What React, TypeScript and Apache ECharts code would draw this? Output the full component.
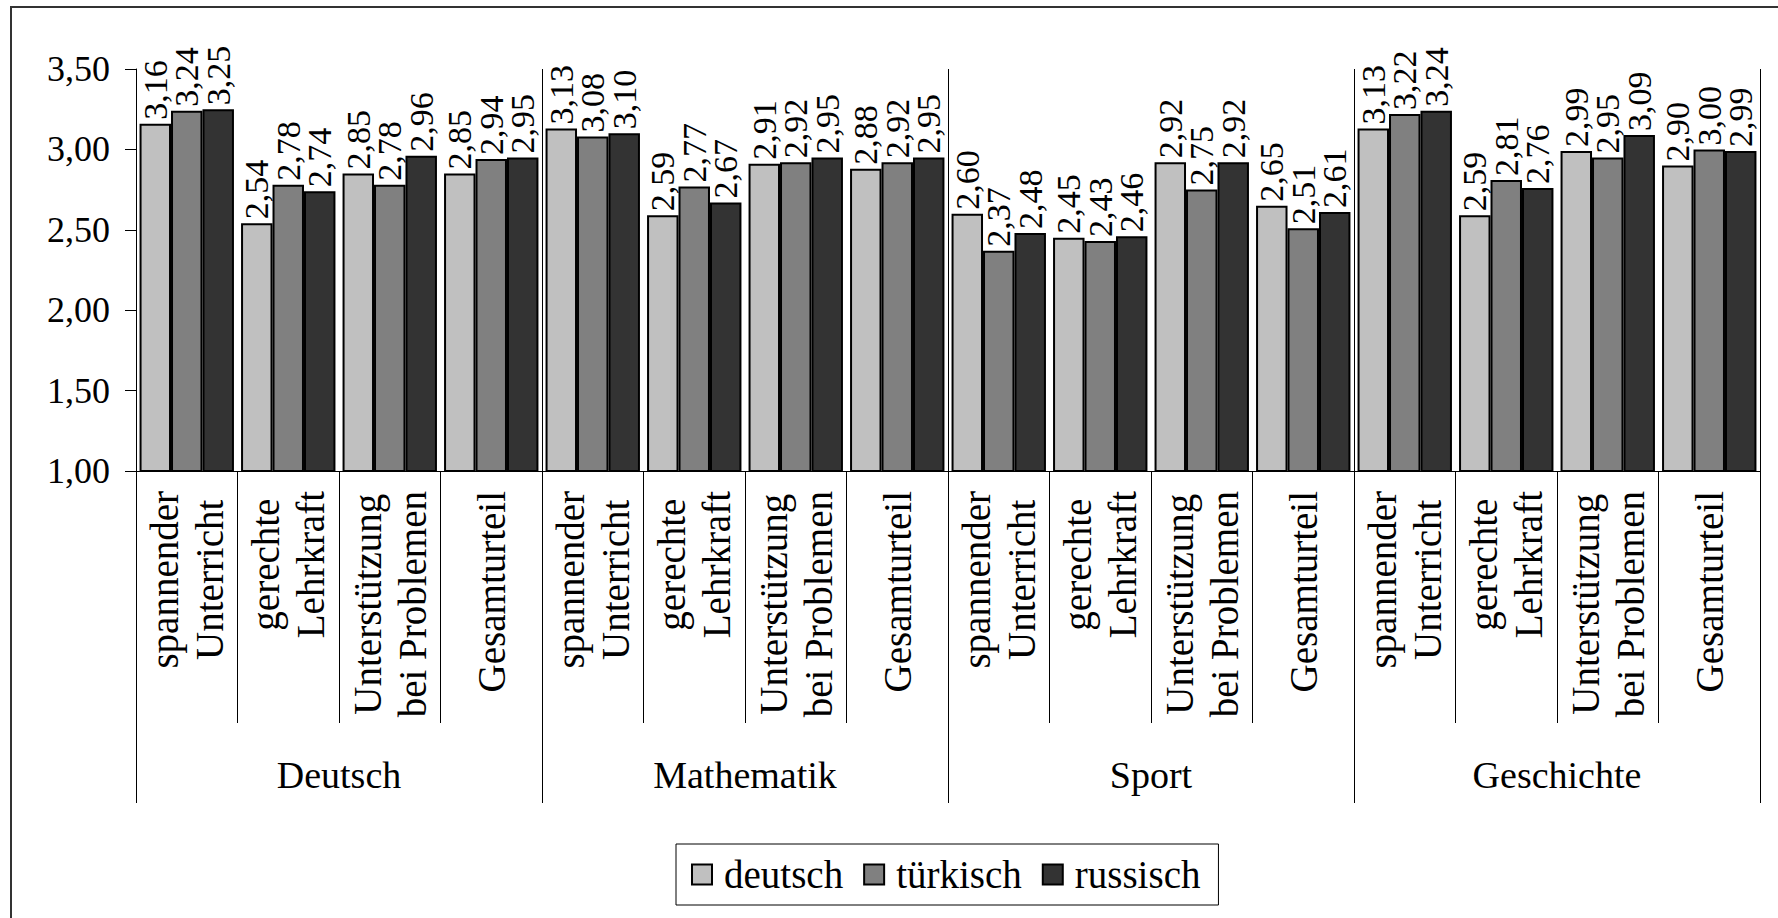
import React, { useEffect, useRef } from 'react';
import * as echarts from 'echarts';

const subjects = ['Deutsch', 'Mathematik', 'Sport', 'Geschichte'];
const criteria = ['spannender\nUnterricht', 'gerechte\nLehrkraft', 'Unterstützung\nbei Problemen', 'Gesamturteil'];
const seriesNames = ['deutsch', 'türkisch', 'russisch'];
const deutsch = [3.16, 2.54, 2.85, 2.85, 3.13, 2.59, 2.91, 2.88, 2.60, 2.45, 2.92, 2.65, 3.13, 2.59, 2.99, 2.90];
const tuerkisch = [3.24, 2.78, 2.78, 2.94, 3.08, 2.77, 2.92, 2.92, 2.37, 2.43, 2.75, 2.51, 3.22, 2.81, 2.95, 3.00];
const russisch = [3.25, 2.74, 2.96, 2.95, 3.10, 2.67, 2.95, 2.95, 2.48, 2.46, 2.92, 2.61, 3.24, 2.76, 3.09, 2.99];
const yMin = 1;
const yMax = 3.5;
const yInterval = 0.5;
const colors = ['#c0c0c0', '#808080', '#333333'];

const FONT = "'Liberation Serif', 'Times New Roman', serif";
const fmt = (v: number) => v.toFixed(2).replace('.', ',');

export default function App() {
  const ref = useRef<HTMLDivElement>(null);
  useEffect(() => {
    document.body.style.margin = '0';
    if (!ref.current) return;
    const chart = echarts.init(ref.current, undefined, { renderer: 'svg' });
    const categories = subjects.flatMap((s) => criteria.map((c) => `${s}#${c}`));
    const allData = [deutsch, tuerkisch, russisch];
    chart.setOption({
      animation: false,
      backgroundColor: '#ffffff',
      textStyle: { fontFamily: FONT, color: '#000' },
      grid: { left: 136, right: 18, top: 69, bottom: 447 },
      graphic: [
        {
          type: 'rect',
          silent: true,
          z: -10,
          shape: { x: 11, y: 7, width: 1800, height: 1000 },
          style: { fill: 'none', stroke: '#333', lineWidth: 2 },
        },
      ],
      legend: {
        left: 676,
        top: 844,
        data: seriesNames,
        icon: 'rect',
        itemWidth: 20,
        itemHeight: 20,
        itemGap: 20,
        borderColor: '#000',
        borderWidth: 1,
        padding: [11, 18, 11, 15],
        backgroundColor: '#fff',
        itemStyle: { borderColor: '#000', borderWidth: 2 },
        textStyle: { fontFamily: FONT, fontSize: 39, color: '#000', padding: [0, 0, 0, 7] },
      },
      xAxis: [
        {
          type: 'category',
          data: categories,
          position: 'bottom',
          axisLine: { show: true, lineStyle: { color: '#000', width: 1 } },
          axisTick: { show: true, interval: 0, length: 252, lineStyle: { color: '#000', width: 1 } },
          splitLine: { show: false },
          axisLabel: {
            interval: 0,
            rotate: 90,
            margin: 20,
            formatter: (v: string) =>
              v
                .split('#')[1]
                .split('\n')
                .map((l) => `{c|${l}}`)
                .join('\n'),
            rich: {
              c: { align: 'center', fontSize: 39, lineHeight: 45, fontFamily: FONT, color: '#000' },
            },
          },
        },
        {
          type: 'category',
          data: subjects,
          position: 'bottom',
          axisLine: { show: false },
          axisTick: { show: true, interval: 0, length: 332, lineStyle: { color: '#000', width: 1 } },
          splitLine: { show: true, interval: 0, lineStyle: { color: '#000', width: 1 } },
          axisLabel: { interval: 0, margin: 285, fontSize: 38, lineHeight: 38, fontFamily: FONT, color: '#000' },
        },
      ],
      yAxis: {
        type: 'value',
        min: yMin,
        max: yMax,
        interval: yInterval,
        axisLine: { show: true, lineStyle: { color: '#000', width: 1 } },
        axisTick: { show: true, length: 11, lineStyle: { color: '#000', width: 1 } },
        splitLine: { show: false },
        axisLabel: { fontSize: 36, margin: 26, fontFamily: FONT, color: '#000', formatter: (v: number) => fmt(v) },
      },
      series: seriesNames.map((name, i) => ({
        name,
        type: 'bar',
        xAxisIndex: 0,
        data: allData[i],
        barGap: '0%',
        barCategoryGap: '7%',
        clip: true,
        itemStyle: { color: colors[i], borderColor: '#000', borderWidth: 2 },
        label: {
          show: true,
          position: 'top',
          rotate: 90,
          align: 'left',
          verticalAlign: 'middle',
          distance: 4,
          fontSize: 34,
          fontFamily: FONT,
          color: '#000',
          formatter: (p: any) => fmt(p.value),
        },
      })),
    });
    return () => chart.dispose();
  }, []);
  return <div ref={ref} style={{ width: 1778, height: 918 }} />;
}
